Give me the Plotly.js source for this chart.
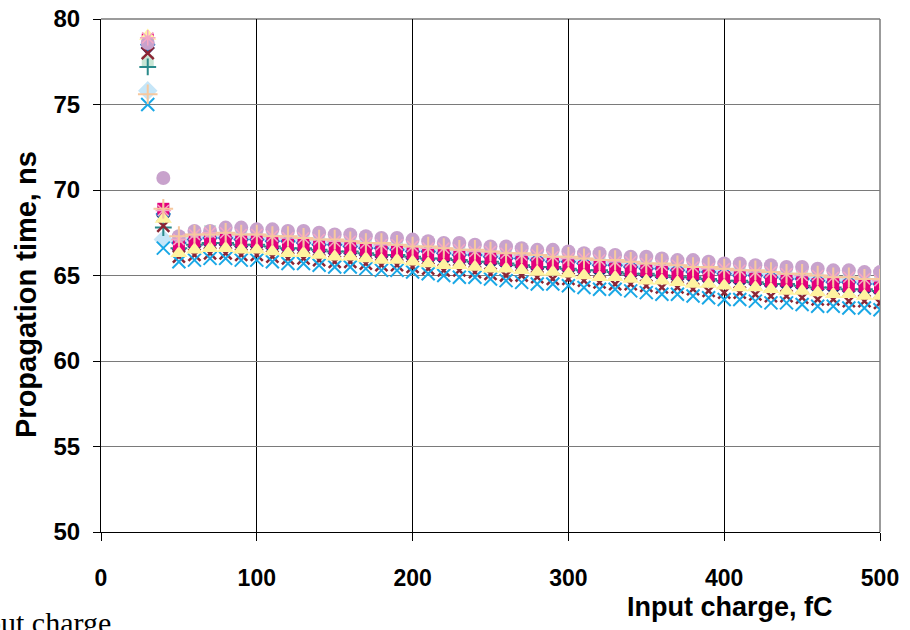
<!DOCTYPE html>
<html>
<head>
<meta charset="utf-8">
<script src="https://cdn.plot.ly/plotly-3.0.1.min.js"></script>
<style>html,body{margin:0;padding:0;background:#fff;}#chart{width:910px;height:630px;}</style>
</head>
<body>
<div id="chart"></div>
<script>
const charge = [30,40,50,60,70,80,90,100,110,120,130,140,150,160,170,180,190,200,210,220,230,240,250,260,270,280,290,300,310,320,330,340,350,360,370,380,390,400,410,420,430,440,450,460,470,480,490,500];

const lightGreenSq = [77.5,68.7,67.2,67.5,67.6,67.6,67.5,67.5,67.4,67.4,67.3,67.2,67.2,67.1,67.0,67.0,66.9,66.8,66.8,66.7,66.6,66.6,66.5,66.4,66.4,66.3,66.2,66.2,66.1,66.0,66.0,65.9,65.8,65.8,65.7,65.6,65.6,65.5,65.4,65.4,65.3,65.2,65.2,65.1,65.1,65.0,64.9,64.9];
const lightBlueDia = [75.8,67.1,67.0,67.2,67.3,67.3,67.2,67.2,67.1,67.1,67.0,66.9,66.9,66.8,66.7,66.7,66.6,66.5,66.5,66.4,66.3,66.3,66.2,66.1,66.1,66.0,65.9,65.9,65.8,65.7,65.7,65.6,65.5,65.5,65.4,65.3,65.3,65.2,65.1,65.1,65.0,64.9,64.9,64.8,64.7,64.7,64.6,64.6];
const navyDia = [78.3,68.5,66.5,66.7,66.8,66.8,66.7,66.7,66.6,66.5,66.5,66.4,66.3,66.3,66.2,66.1,66.1,66.0,65.9,65.9,65.8,65.7,65.7,65.6,65.5,65.4,65.4,65.3,65.2,65.2,65.1,65.0,65.0,64.9,64.8,64.8,64.7,64.6,64.6,64.5,64.4,64.4,64.3,64.2,64.2,64.1,64.1,64.0];
const tealPlus = [77.2,67.8,66.6,66.8,66.9,66.9,66.8,66.8,66.7,66.6,66.6,66.5,66.4,66.4,66.3,66.2,66.2,66.1,66.0,66.0,65.9,65.8,65.8,65.7,65.6,65.5,65.5,65.4,65.3,65.3,65.2,65.1,65.1,65.0,64.9,64.9,64.8,64.7,64.7,64.6,64.5,64.5,64.4,64.3,64.3,64.2,64.2,64.1];
const blueDia = [78.5,68.6,66.9,67.1,67.2,67.2,67.1,67.1,67.0,67.0,66.9,66.8,66.8,66.7,66.6,66.6,66.5,66.4,66.4,66.3,66.2,66.2,66.1,66.0,66.0,65.9,65.8,65.8,65.7,65.6,65.6,65.5,65.4,65.4,65.3,65.2,65.2,65.1,65.0,65.0,64.9,64.8,64.8,64.7,64.6,64.6,64.5,64.5];
const magentaSq = [78.8,68.9,66.8,67.0,67.1,67.1,67.0,67.0,66.9,66.8,66.8,66.7,66.6,66.6,66.5,66.4,66.4,66.3,66.2,66.2,66.1,66.0,66.0,65.9,65.8,65.7,65.7,65.6,65.5,65.5,65.4,65.3,65.3,65.2,65.1,65.1,65.0,64.9,64.9,64.8,64.7,64.7,64.6,64.5,64.5,64.4,64.4,64.3];
const darkRedX = [78.0,67.9,66.1,66.2,66.3,66.3,66.2,66.2,66.1,66.0,66.0,65.9,65.8,65.8,65.7,65.6,65.6,65.5,65.4,65.3,65.3,65.2,65.1,65.0,65.0,64.9,64.8,64.8,64.7,64.6,64.5,64.5,64.4,64.3,64.3,64.2,64.1,64.0,64.0,63.9,63.8,63.8,63.7,63.6,63.6,63.5,63.5,63.4];
const cyanX = [75.0,66.6,65.8,65.9,66.0,66.0,65.9,65.9,65.8,65.7,65.7,65.6,65.5,65.5,65.4,65.3,65.3,65.2,65.1,65.0,64.9,64.9,64.8,64.7,64.6,64.5,64.5,64.4,64.3,64.2,64.2,64.1,64.0,63.9,63.9,63.8,63.7,63.6,63.6,63.5,63.4,63.4,63.3,63.2,63.2,63.1,63.1,63.0];
const yellowTri = [79.0,68.3,66.3,66.5,66.6,66.6,66.5,66.5,66.4,66.3,66.3,66.2,66.1,66.1,66.0,65.9,65.9,65.8,65.7,65.6,65.6,65.5,65.4,65.4,65.3,65.2,65.2,65.1,65.0,64.9,64.9,64.8,64.7,64.7,64.6,64.5,64.5,64.4,64.3,64.3,64.2,64.1,64.1,64.0,63.9,63.9,63.8,63.8];
const lavenderCirc = [78.6,70.7,67.3,67.6,67.6,67.8,67.8,67.7,67.7,67.6,67.6,67.5,67.4,67.4,67.3,67.2,67.2,67.1,67.0,66.9,66.9,66.8,66.7,66.7,66.6,66.5,66.5,66.4,66.3,66.3,66.2,66.1,66.1,66.0,65.9,65.9,65.8,65.7,65.7,65.6,65.6,65.5,65.5,65.4,65.3,65.3,65.2,65.2];
const pinkAst = [78.9,68.8,67.1,67.4,67.5,67.5,67.4,67.4,67.3,67.2,67.2,67.1,67.0,67.0,66.9,66.8,66.8,66.7,66.6,66.6,66.5,66.4,66.4,66.3,66.2,66.2,66.1,66.0,66.0,65.9,65.8,65.8,65.7,65.6,65.6,65.5,65.4,65.4,65.3,65.2,65.2,65.1,65.0,65.0,64.9,64.9,64.8,64.7];
const tanPlus = [75.6,68.9,67.3,67.4,67.4,67.5,67.4,67.4,67.3,67.3,67.2,67.1,67.1,67.0,66.9,66.9,66.8,66.7,66.7,66.6,66.5,66.5,66.4,66.3,66.3,66.2,66.1,66.1,66.0,65.9,65.9,65.8,65.7,65.7,65.6,65.5,65.5,65.4,65.3,65.3,65.2,65.1,65.1,65.0,64.9,64.9,64.8,64.8];

const xTicks = [0,100,200,300,400,500];
const yTicks = [50,55,60,65,70,75,80];

function series(name, y, symbol, color, size, lineW) {
  const open = symbol.indexOf('open') >= 0;
  return {
    type: 'scatter', mode: 'markers', name: name, x: charge, y: y,
    hoverinfo: 'skip',
    marker: open
      ? {symbol: symbol, size: size, color: color, line: {color: color, width: lineW}}
      : {symbol: symbol, size: size, color: color, line: {width: 0}}
  };
}

const traces = [
  series('s1', lightGreenSq, 'square', '#c8e6d5', 12),
  series('s2', lightBlueDia, 'diamond', '#c6e6f8', 15),
  series('s3', navyDia, 'diamond', '#1f2a7a', 11),
  series('s4', tealPlus, 'cross-thin-open', '#2a8a8a', 12, 2),
  series('s5', blueDia, 'diamond', '#1e7cc8', 12),
  series('s6', magentaSq, 'square', '#e4007c', 12),
  series('s7', darkRedX, 'x-thin-open', '#8c2635', 12, 2.5),
  series('s8', cyanX, 'x-thin-open', '#1aa8e6', 13, 2),
  series('s9', yellowTri, 'triangle-up', '#fff3a0', 15),
  series('s10', lavenderCirc, 'circle', '#c8a2cc', 14),
  series('s11', pinkAst, 'asterisk-open', '#f4a7c4', 13, 1.5),
  series('s12', tanPlus, 'cross-thin-open', '#f6c89e', 14, 2)
];

const boldFont = 'Arial, Liberation Sans, sans-serif';
const tickFontY = {family: boldFont, size: 24, color: '#000', weight: 700};
const tickFontX = {family: boldFont, size: 23, color: '#000', weight: 700};

const layout = {
  width: 910, height: 630,
  paper_bgcolor: '#fff', plot_bgcolor: '#fff',
  showlegend: false,
  margin: {l: 101, r: 30, t: 19, b: 98, pad: 0},
  xaxis: {
    range: [0, 500], tickvals: xTicks, ticktext: xTicks.map(String),
    showgrid: true, gridcolor: '#000', gridwidth: 1,
    zeroline: false, showline: true, linecolor: '#000', linewidth: 1,
    ticks: 'outside', ticklen: 8, tickcolor: '#000', tickwidth: 1,
    tickfont: tickFontX, ticklabelstandoff: 17, automargin: false
  },
  yaxis: {
    range: [50, 80], tickvals: yTicks, ticktext: yTicks.map(String),
    showgrid: true, gridcolor: '#7a7a7a', gridwidth: 1,
    zeroline: false, showline: true, linecolor: '#000', linewidth: 1,
    ticks: 'outside', ticklen: 7, tickcolor: '#000', tickwidth: 1,
    tickfont: tickFontY, ticklabelstandoff: 8, automargin: false
  },
  shapes: [
    {type: 'line', xref: 'paper', yref: 'paper', x0: 0, x1: 1, y0: 1, y1: 1, line: {color: '#7a7a7a', width: 1.5}, layer: 'below'},
    {type: 'line', xref: 'paper', yref: 'paper', x0: 1, x1: 1, y0: 0, y1: 1, line: {color: '#7a7a7a', width: 1.5}, layer: 'below'}
  ],
  annotations: [
    {text: 'Propagation time, ns', xref: 'paper', yref: 'paper', x: (26 - 101) / 779, y: (532 - 295) / 513,
      xanchor: 'center', yanchor: 'middle', textangle: -90, showarrow: false,
      font: {family: boldFont, size: 29, color: '#000', weight: 700}},
    {text: 'Input charge, fC', xref: 'paper', yref: 'paper', x: (730 - 101) / 779, y: -(607 - 532) / 513,
      xanchor: 'center', yanchor: 'middle', showarrow: false,
      font: {family: boldFont, size: 27, color: '#000', weight: 700}},
    {text: 'Input charge', xref: 'paper', yref: 'paper', x: (-41 - 101) / 779, y: -(604 - 532) / 513,
      xanchor: 'left', yanchor: 'top', showarrow: false,
      font: {family: 'Times New Roman, Liberation Serif, serif', size: 30, color: '#000'}}
  ]
};

Plotly.newPlot('chart', traces, layout, {displayModeBar: false, staticPlot: true});
</script>
</body>
</html>
